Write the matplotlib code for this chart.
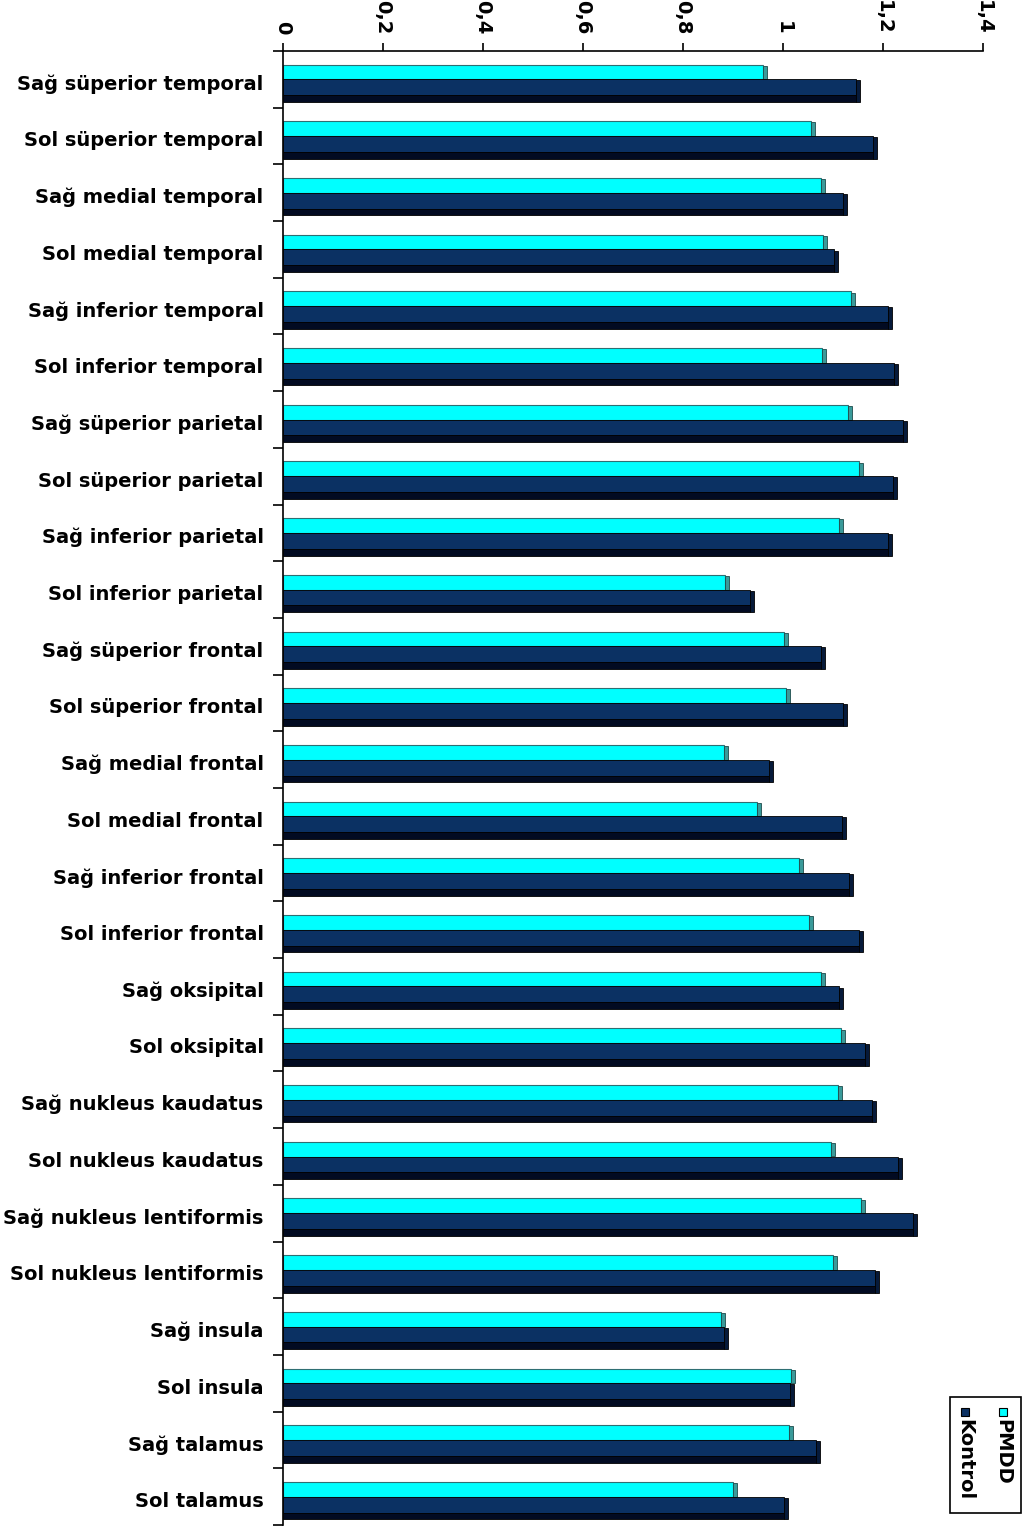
import matplotlib
matplotlib.use("Agg")
import matplotlib.pyplot as plt
from matplotlib.patches import Rectangle
import numpy as np

categories = [
    "Sağ süperior temporal", "Sol süperior temporal", "Sağ medial temporal",
    "Sol medial temporal", "Sağ inferior temporal", "Sol inferior temporal",
    "Sağ süperior parietal", "Sol süperior parietal", "Sağ inferior parietal",
    "Sol inferior parietal", "Sağ süperior frontal", "Sol süperior frontal",
    "Sağ medial frontal", "Sol medial frontal", "Sağ inferior frontal",
    "Sol inferior frontal", "Sağ oksipital", "Sol oksipital",
    "Sağ nukleus kaudatus", "Sol nukleus kaudatus", "Sağ nukleus lentiformis",
    "Sol nukleus lentiformis", "Sağ insula", "Sol insula", "Sağ talamus",
    "Sol talamus",
]
pmdd = [0.968, 1.064, 1.084, 1.088, 1.144, 1.086, 1.138, 1.160, 1.120, 0.892,
        1.010, 1.014, 0.890, 0.956, 1.040, 1.060, 1.084, 1.124, 1.118, 1.104,
        1.164, 1.108, 0.884, 1.024, 1.020, 0.908]
kontrol = [1.154, 1.188, 1.128, 1.110, 1.218, 1.230, 1.248, 1.228, 1.218, 0.942,
           1.084, 1.128, 0.980, 1.126, 1.140, 1.160, 1.120, 1.172, 1.186, 1.238,
           1.268, 1.192, 0.890, 1.022, 1.074, 1.010]
series_names = ["PMDD", "Kontrol"]
xticks = [0, 0.2, 0.4, 0.6, 0.8, 1.0, 1.2, 1.4]
xtick_labels = ["0", "0,2", "0,4", "0,6", "0,8", "1", "1,2", "1,4"]

CYAN = "#00FFFF"
CYAN_SIDE = "#3a9a9a"
NAVY = "#0b3163"
NAVY_SIDE = "#061a3a"
DARK = "#020b22"
FONT = dict(family="DejaVu Sans", weight="bold", size=14)

W, H = 1025, 1530
fig = plt.figure(figsize=(W / 100, H / 100), dpi=100)
ax = fig.add_axes([283 / W, 1 - 1525 / H, 700 / W, (1525 - 51) / H])

y = np.arange(len(categories))
pm = np.array(pmdd)
ko = np.array(kontrol)
cap = 0.008  # little side face at the end of each bar (fake 3D)

# PMDD bar sits above the category centre, Kontrol below (with a dark 3D underside)
ax.barh(y - 0.13, pm - cap, height=0.26, color=CYAN, edgecolor="#2f6f73", linewidth=0.8)
ax.barh(y - 0.12, cap, left=pm - cap, height=0.24, color=CYAN_SIDE, edgecolor="#1d4c4c", linewidth=0.6)
ax.barh(y + 0.14, ko - cap, height=0.28, color=NAVY, edgecolor="#000000", linewidth=0.6)
ax.barh(y + 0.34, ko - cap, height=0.12, color=DARK, edgecolor="#000000", linewidth=0.6)
ax.barh(y + 0.21, cap, left=ko - cap, height=0.38, color=NAVY_SIDE, edgecolor="#000000", linewidth=0.6)

ax.set_xlim(0, 1.4)
ax.set_ylim(len(categories) - 0.5, -0.5)

ax.xaxis.tick_top()
ax.set_xticks(xticks)
ax.set_xticklabels(xtick_labels, rotation=-90, **FONT)
ax.tick_params(axis="x", direction="out", length=6, width=1.2, pad=6)

ax.set_yticks(y + 0.05)
ax.set_yticklabels(categories, **FONT)
ax.tick_params(axis="y", length=0, pad=14)
ax.set_yticks(np.arange(len(categories) + 1) - 0.5, minor=True)
ax.tick_params(axis="y", which="minor", direction="out", length=7, width=1.2)

for side in ["right", "bottom"]:
    ax.spines[side].set_visible(False)
ax.spines["left"].set_linewidth(1.2)
ax.spines["top"].set_linewidth(1.2)

# rotated legend, drawn by hand in pixel coordinates
def fx(px):
    return px / W


def fy(py):
    return 1 - py / H


fig.patches.append(Rectangle((fx(950), fy(1513)), fx(1021) - fx(950), fy(1397) - fy(1513),
                             transform=fig.transFigure, facecolor="white",
                             edgecolor="black", linewidth=1.2))
for xc, col, name in [(1003, CYAN, series_names[0]), (965, NAVY, series_names[1])]:
    fig.patches.append(Rectangle((fx(xc - 4), fy(1416)), fx(8), 8 / H,
                                 transform=fig.transFigure, facecolor=col,
                                 edgecolor="black", linewidth=0.8))
    fig.text(fx(xc), fy(1419), name, rotation=-90, ha="center", va="top", **FONT)

fig.savefig("out.png", dpi=100, facecolor="white")
